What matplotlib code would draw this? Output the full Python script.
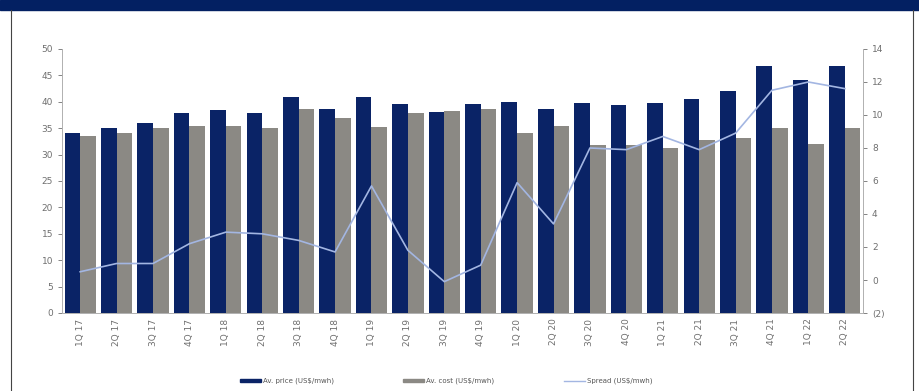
#!/usr/bin/env python3
"""Quarterly average price vs cost bars with the spread on a secondary axis."""

import matplotlib

matplotlib.use("Agg")
import matplotlib.pyplot as plt  # noqa: E402
import numpy as np  # noqa: E402
from matplotlib.lines import Line2D  # noqa: E402
from matplotlib.patches import Patch, Rectangle  # noqa: E402


# ---------------------------------------------------------------------------
# Data
# ---------------------------------------------------------------------------

quarters = [
    "1Q 17", "2Q 17", "3Q 17", "4Q 17",
    "1Q 18", "2Q 18", "3Q 18", "4Q 18",
    "1Q 19", "2Q 19", "3Q 19", "4Q 19",
    "1Q 20", "2Q 20", "3Q 20", "4Q 20",
    "1Q 21", "2Q 21", "3Q 21", "4Q 21",
    "1Q 22", "2Q 22",
]

price = [34.1, 35.1, 36.0, 37.8, 38.4, 37.8, 41.0, 38.6,
         41.0, 39.6, 38.1, 39.6, 40.0, 38.6, 39.7, 39.4,
         39.8, 40.6, 42.1, 46.7, 44.1, 46.7]

cost = [33.5, 34.0, 35.0, 35.5, 35.5, 35.0, 38.6, 37.0,
        35.3, 37.9, 38.2, 38.6, 34.0, 35.4, 31.8, 31.8,
        31.2, 32.8, 33.1, 35.1, 32.0, 35.1]

spread = [0.5, 1.0, 1.0, 2.2, 2.9, 2.8, 2.4, 1.7,
          5.7, 1.8, -0.1, 0.9, 5.9, 3.4, 8.0, 7.9,
          8.7, 7.9, 8.9, 11.5, 12.0, 11.6]

left_ticks = list(range(0, 51, 5))
right_ticks = list(range(-2, 15, 2))

labels = ["Av. price (US$/mwh)", "Av. cost (US$/mwh)", "Spread (US$/mwh)"]

NAVY = "#0a2366"
GREY = "#8b8984"
LINE = "#a3b6e2"
TICK = "#6f6f6f"

# ---------------------------------------------------------------------------
# Figure
# ---------------------------------------------------------------------------

fig = plt.figure(figsize=(9.2, 3.91), dpi=100)

# dark header band and the thin page frame
fig.patches.append(Rectangle((0, 1 - 10 / 391), 1, 10 / 391, transform=fig.transFigure,
                             color="#032062", zorder=0))
for xpx in (11, 913):
    fig.add_artist(Line2D([xpx / 920, xpx / 920], [0, 1 - 10 / 391],
                          transform=fig.transFigure, color="#444444", lw=0.8))

ax = fig.add_axes([62 / 920, 1 - 313 / 391, (863 - 62) / 920, (313 - 49) / 391])
x = np.arange(len(quarters))
w = 0.43

ax.bar(x - w / 2, price, width=w, color=NAVY, zorder=2)
ax.bar(x + w / 2, cost, width=w, color=GREY, zorder=2)

ax.set_xlim(-0.5, len(quarters) - 0.5)
ax.set_ylim(0, 50)
ax.set_yticks(left_ticks)
ax.set_xticks(x)
ax.set_xticklabels(quarters, rotation=90, fontsize=6.5, color=TICK)
ax.tick_params(axis="y", labelsize=6.5, colors=TICK, length=3, width=0.6)
ax.tick_params(axis="x", length=0, pad=4)
for side in ("top", "right"):
    ax.spines[side].set_visible(False)
for side in ("left", "bottom"):
    ax.spines[side].set_color("#b0b0b0")
    ax.spines[side].set_linewidth(0.7)

# spread on the secondary axis
ax2 = ax.twinx()
ax2.plot(x, spread, color=LINE, lw=1.2, zorder=3)
ax2.set_ylim(-2, 14)
ax2.set_yticks(right_ticks)
ax2.set_yticklabels([f"({abs(t)})" if t < 0 else str(t) for t in right_ticks])
ax2.tick_params(axis="y", labelsize=6.5, colors=TICK, length=3, width=0.6)
for side in ("top", "left", "bottom"):
    ax2.spines[side].set_visible(False)
ax2.spines["right"].set_color("#b0b0b0")
ax2.spines["right"].set_linewidth(0.7)

handles = [
    Patch(facecolor=NAVY, edgecolor=NAVY),
    Patch(facecolor=GREY, edgecolor=GREY),
    Line2D([0], [0], color=LINE, lw=1.0),
]
fig.legend(handles, labels, loc="center", bbox_to_anchor=(0.485, 1 - 381 / 391), ncol=3,
           frameon=False, fontsize=5, handlelength=3.0, handleheight=0.35,
           columnspacing=10.0, handletextpad=0.3, labelcolor="#555555")

fig.savefig("out.png", dpi=100)
plt.close(fig)
